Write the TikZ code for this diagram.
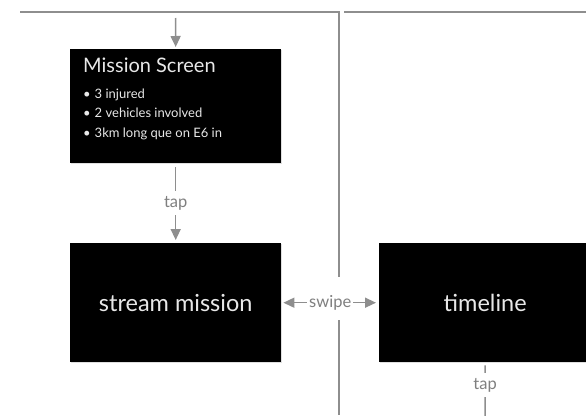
\documentclass[tikz,border=0pt]{standalone}
\usepackage{fontspec}
\setmainfont{Lato}
\usetikzlibrary{arrows.meta,shadows}
\definecolor{linegray}{HTML}{8E8E8E}
\definecolor{labelgray}{HTML}{7F7F7F}
\definecolor{screentext}{HTML}{E8E8E8}
\tikzset{
	screen/.style={fill=black, text=screentext, anchor=north west, inner sep=0pt,
		font=\fontsize{23.5}{28}\selectfont,
		drop shadow={shadow xshift=0.6pt, shadow yshift=-1.2pt, opacity=0.25}},
	flow/.style={draw=linegray, line width=1.5pt, -{Triangle[length=11pt,width=10pt]}},
	divider/.style={draw=linegray, line width=1.5pt},
	lbl/.style={fill=white, text=labelgray, inner xsep=2pt, inner ysep=5pt,
		font=\fontsize{16.5}{18}\selectfont}
}
\begin{document}
\begin{tikzpicture}[x=1pt, y=-1pt]
	\useasboundingbox (0,0) rectangle (586,415);
	% Rahmen
	\draw[divider] (20,12) -- (339,12) -- (339,277);
	\draw[divider] (339,320) -- (339,415);
	\draw[divider] (344,12) -- (586,12);
	% Screens
	\node[screen, minimum width=211pt, minimum height=114pt] (mission) at (70,49) {};
	\node[anchor=north west, align=left, text=screentext, inner sep=0pt,
		font=\fontsize{13}{19.5}\selectfont] (missiontext) at (83,58)
		{{\fontsize{20}{24}\selectfont Mission Screen}\\[6pt]
		\textbullet\hspace{4pt}3 injured\\
		\textbullet\hspace{4pt}2 vehicles involved\\
		\textbullet\hspace{4pt}3km long que on E6 in};
	\node[screen, minimum width=211pt, minimum height=119pt] (stream) at (70,243) {stream mission};
	\node[screen, minimum width=212pt, minimum height=119pt] (timeline) at (379,243) {timeline};
	% Pfeile
	\coordinate (entry) at (175.5,18);
	\coordinate (down) at (485,420);
	\draw[flow, shorten >=2pt] (entry) -- (mission.north);
	\draw[flow, shorten <=4pt, shorten >=3pt] (mission) -- node[lbl] {tap} (stream);
	\draw[flow, {Triangle[length=11pt,width=10pt]}-{Triangle[length=11pt,width=10pt]},
		shorten <=2pt, shorten >=3pt] (stream) -- node[lbl] {swipe} (timeline);
	\draw[divider, shorten <=3pt] (timeline.south) -- node[lbl, pos=0.4] {tap} (down);
\end{tikzpicture}
\end{document}
